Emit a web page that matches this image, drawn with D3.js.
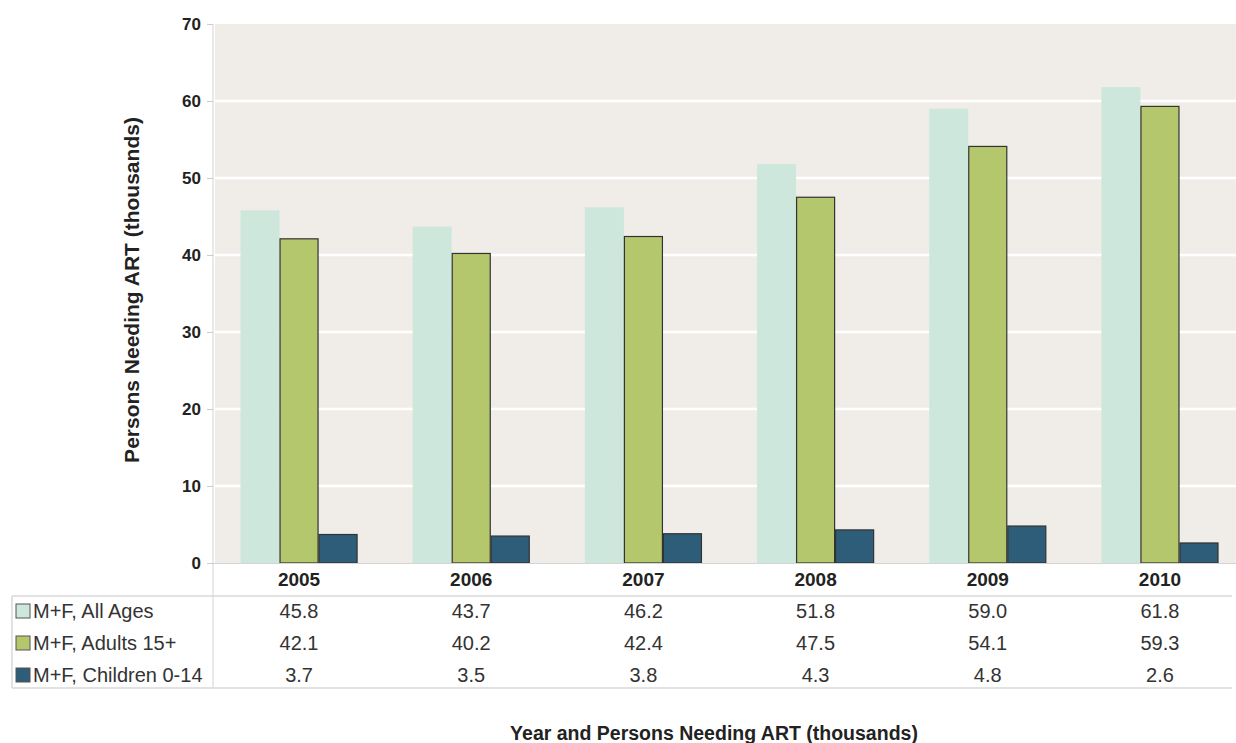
<!DOCTYPE html>
<html><head><meta charset="utf-8">
<script src="https://cdn.jsdelivr.net/npm/d3@7"></script>
<style>body{margin:0;background:#fff}svg{display:block;font-family:Arial,"Liberation Sans",sans-serif}</style>
</head><body><svg id="c" width="1236" height="743"></svg>
<script>
const years = ["2005","2006","2007","2008","2009","2010"];
const seriesNames = ["M+F, All Ages","M+F, Adults 15+","M+F, Children 0-14"];
const allAges = [45.8,43.7,46.2,51.8,59.0,61.8];
const adults = [42.1,40.2,42.4,47.5,54.1,59.3];
const children = [3.7,3.5,3.8,4.3,4.8,2.6];
const yTicks = [0,10,20,30,40,50,60,70];
const colors = ["#cde7dc","#b4c76c","#2d5d78"];
const strokes = ["none","#333","#333"];
const seriesVals = [allAges, adults, children];

const svg = d3.select("#c");
const L=215, R=1236, T=24, B=563;
const x = d3.scaleBand().domain(years).range([240.5,1218.5]).paddingInner(0.32).paddingOuter(0);
const x1 = d3.scaleBand().domain(d3.range(3)).range([0,x.bandwidth()]);
const y = d3.scaleLinear().domain([0,70]).range([B,T]);

svg.append("rect").attr("x",L).attr("y",T).attr("width",R-L).attr("height",B-T).attr("fill","#f0ede8");
svg.append("g").selectAll("line").data(yTicks.filter(d=>d>0&&d<70)).join("line")
  .attr("x1",L).attr("x2",R).attr("y1",d=>y(d)).attr("y2",d=>y(d)).attr("stroke","#fff").attr("stroke-width",2.5);

// bars
seriesVals.forEach((vals,si)=>{
  svg.append("g").selectAll("rect").data(years).join("rect")
    .attr("x",(d)=>x(d)+x1(si)+(si>0?0.5:0))
    .attr("y",(d,i)=>y(vals[i]))
    .attr("width",x1.bandwidth()-(si>0?1:0))
    .attr("height",(d,i)=>B-y(vals[i]))
    .attr("fill",colors[si]).attr("stroke",strokes[si]).attr("stroke-width",1.2);
});

// y axis
const ya = svg.append("g").attr("transform",`translate(${L-2},0)`)
  .call(d3.axisLeft(y).tickValues(yTicks).tickSize(6).tickPadding(6));
ya.select(".domain").attr("stroke","#d4d4d4").attr("d",`M0,${T}V688`);
ya.selectAll(".tick line").attr("stroke","#ccc");
ya.selectAll("text").attr("font-size",17).attr("font-weight","bold").attr("fill","#222").attr("font-family","Arial, Liberation Sans, sans-serif");

// baseline
svg.append("line").attr("x1",L-2).attr("x2",R).attr("y1",B+0.5).attr("y2",B+0.5).attr("stroke","#d4d4d4");

// year labels
svg.append("g").selectAll("text").data(years).join("text")
  .attr("x",d=>x(d)+x.bandwidth()/2).attr("y",586).attr("text-anchor","middle")
  .attr("font-size",19).attr("font-weight","bold").attr("fill","#222").text(d=>d);

// table
const rowY = [611,643,675];
const tbl = svg.append("g");
tbl.append("line").attr("x1",12).attr("x2",1232).attr("y1",596).attr("y2",596).attr("stroke","#d8d8d8").attr("stroke-width",1.5);
tbl.append("line").attr("x1",12).attr("x2",1232).attr("y1",688).attr("y2",688).attr("stroke","#d8d8d8").attr("stroke-width",1.5);
tbl.append("line").attr("x1",12).attr("x2",12).attr("y1",596).attr("y2",688).attr("stroke","#d8d8d8").attr("stroke-width",1.5);
seriesNames.forEach((nm,si)=>{
  tbl.append("rect").attr("x",16).attr("y",rowY[si]-7).attr("width",14).attr("height",14)
    .attr("fill",colors[si]).attr("stroke","#555").attr("stroke-width",1);
  tbl.append("text").attr("x",33).attr("y",rowY[si]).attr("dy","0.36em")
    .attr("font-size",20).attr("fill","#333").text(nm);
  tbl.append("g").selectAll("text").data(years).join("text")
    .attr("x",d=>x(d)+x.bandwidth()/2).attr("y",rowY[si]).attr("dy","0.36em").attr("text-anchor","middle")
    .attr("font-size",20).attr("fill","#333").text((d,i)=>seriesVals[si][i].toFixed(1));
});

// titles
svg.append("text").attr("transform","translate(139,290) rotate(-90)").attr("text-anchor","middle")
  .attr("font-size",21).attr("font-weight","bold").attr("fill","#222").text("Persons Needing ART (thousands)");
svg.append("text").attr("x",714).attr("y",740).attr("text-anchor","middle")
  .attr("font-size",19.5).attr("font-weight","bold").attr("fill","#222").text("Year and Persons Needing ART (thousands)");
</script></body></html>
